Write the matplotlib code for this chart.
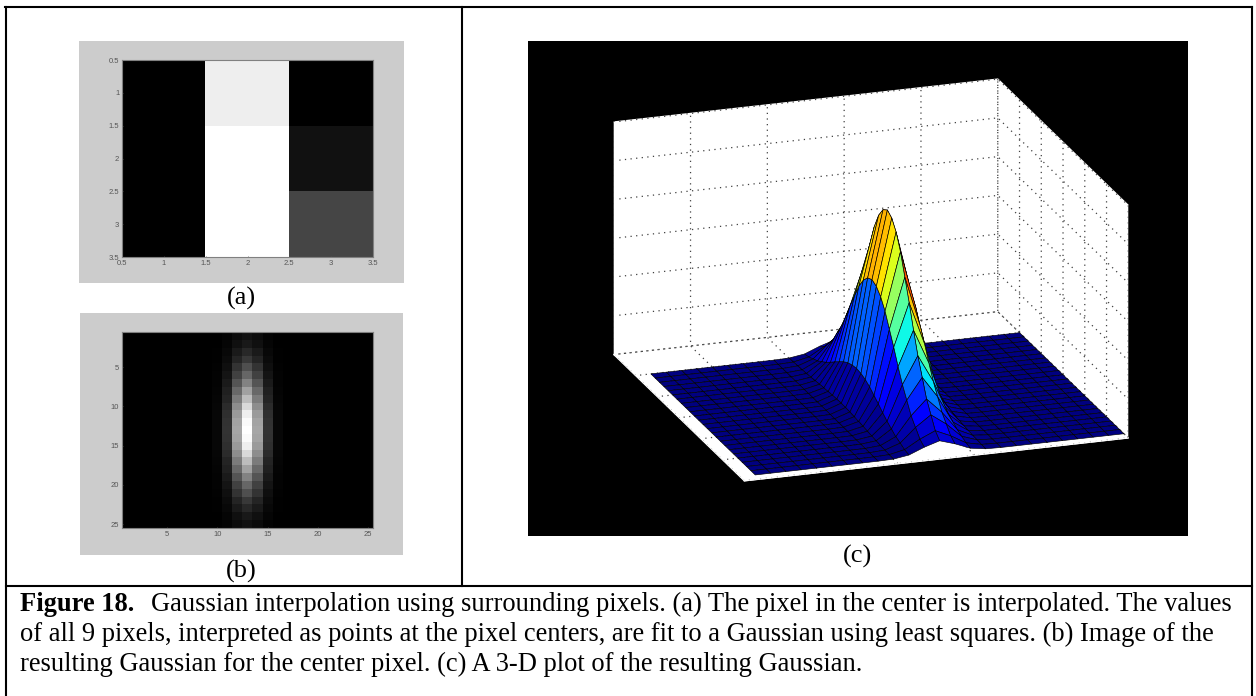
import numpy as np
import matplotlib
matplotlib.use("Agg")
import matplotlib.pyplot as plt
from matplotlib.patches import Rectangle

W, H = 1256, 696

# pixel values of the 3x3 patch (a)
patch_values = [[0.00, 0.93, 0.00],
                [0.00, 1.00, 0.07],
                [0.00, 1.00, 0.27]]
patch_ticks = [0.5, 1, 1.5, 2, 2.5, 3, 3.5]
patch_labels = ["0.5", "1", "1.5", "2", "2.5", "3", "3.5"]

# gaussian profiles (b) and (c), 25 samples each
profile_x = [0, 0, 0, 0, 0, 0, 0, 0, 0.002, 0.03, 0.20, 0.65, 1.0,
             0.65, 0.20, 0.03, 0.002, 0, 0, 0, 0, 0, 0, 0, 0]
profile_y = [0.07, 0.10, 0.16, 0.22, 0.31, 0.40, 0.51, 0.63, 0.74, 0.85, 0.93, 0.98, 1.0,
             0.98, 0.93, 0.85, 0.74, 0.63, 0.51, 0.40, 0.31, 0.22, 0.16, 0.10, 0.07]
image_ticks = [5, 10, 15, 20, 25]

caption_bold = "Figure 18."
caption_lines = ["Gaussian interpolation using surrounding pixels. (a) The pixel in the center is interpolated. The values",
                 "of all 9 pixels, interpreted as points at the pixel centers, are fit to a Gaussian using least squares. (b) Image of the",
                 "resulting Gaussian for the center pixel. (c) A 3-D plot of the resulting Gaussian."]

plt.rcParams["font.family"] = ["Liberation Serif", "DejaVu Serif"]
plt.rcParams["grid.linestyle"] = (0, (1, 3.5))
plt.rcParams["grid.color"] = "#404040"
plt.rcParams["grid.linewidth"] = 0.9


def px_axes(x0, y0, x1, y1, **kw):
    # axes from pixel box, y counted from the top
    return fig.add_axes([x0 / W, 1 - y1 / H, (x1 - x0) / W, (y1 - y0) / H], **kw)


def px_rect(x0, y0, x1, y1, color):
    fig.add_artist(Rectangle((x0 / W, 1 - y1 / H), (x1 - x0) / W, (y1 - y0) / H,
                             transform=fig.transFigure, facecolor=color, edgecolor="none", zorder=-1))


def px_line(x0, y0, x1, y1):
    fig.add_artist(plt.Line2D([x0 / W, x1 / W], [1 - y0 / H, 1 - y1 / H],
                              transform=fig.transFigure, color="black", lw=1.5))


def px_text(x, y, s, **kw):
    fig.text(x / W, 1 - y / H, s, va="baseline", color="black", **kw)


def style_image_axes(ax):
    ax.tick_params(labelsize=5.5, colors="#555555", length=1, width=0.5, direction="in", pad=2)
    for label in ax.get_xticklabels() + ax.get_yticklabels():
        label.set_family("Liberation Sans")
    for spine in ax.spines.values():
        spine.set_color("#808080")
        spine.set_linewidth(0.8)


fig = plt.figure(figsize=(W / 100, H / 100), dpi=100, facecolor="white")

# table borders, the bottom edge is cut off by the page
px_line(5, 7, 1252, 7)
px_line(6, 7, 6, 696)
px_line(1252, 7, 1252, 696)
px_line(6, 586, 1252, 586)
px_line(462, 7, 462, 586)

# panel (a)
px_rect(79, 41, 404, 283, "#cccccc")
ax_a = px_axes(122, 60, 373, 257)
ax_a.imshow(patch_values, cmap="gray", vmin=0, vmax=1, aspect="auto",
            extent=[0.5, 3.5, 3.5, 0.5], interpolation="nearest")
ax_a.set_xticks(patch_ticks, patch_labels)
ax_a.set_yticks(patch_ticks, patch_labels)
style_image_axes(ax_a)
px_text(241, 305, "(a)", fontsize=19, ha="center")

# panel (b)
gaussian = np.outer(profile_y, profile_x)
px_rect(80, 313, 403, 555, "#cccccc")
ax_b = px_axes(122, 332, 373, 528)
ax_b.imshow(gaussian, cmap="gray", vmin=0, vmax=1, aspect="auto",
            extent=[0.5, 25.5, 25.5, 0.5], interpolation="nearest")
ax_b.set_xticks(image_ticks)
ax_b.set_yticks(image_ticks)
style_image_axes(ax_b)
px_text(241, 578, "(b)", fontsize=19, ha="center")

# panel (c)
px_rect(528, 41, 1188, 536, "black")
px_text(858, 563, "(c)", fontsize=19, ha="center")

side = 606
cx, cy = 871, 280
left = cx - 0.5135 * side
bottom = H - (cy + 0.5135 * side)
ax_c = fig.add_axes([left / W, bottom / H, side / W, side / H], projection="3d")
ax_c.patch.set_alpha(0)
ax_c.set_proj_type("ortho")
ax_c.view_init(elev=19.2, azim=-108.77)
ax_c.set_box_aspect((1, 1, 0.607))
ax_c.set_xlim(0, 25, view_margin=0)
ax_c.set_ylim(0, 30, view_margin=0)
ax_c.set_zlim(0, 1.2, view_margin=0)
ax_c.set_xticks(np.arange(0, 26, 5))
ax_c.set_yticks(np.arange(0, 31, 5))
ax_c.set_zticks(np.arange(0, 1.3, 0.2))
ax_c.set_xticklabels([])
ax_c.set_yticklabels([])
ax_c.set_zticklabels([])
ax_c.tick_params(color=(0, 0, 0, 0))
for axis in (ax_c.xaxis, ax_c.yaxis, ax_c.zaxis):
    axis.set_pane_color((1, 1, 1, 1))
    axis.pane.set_edgecolor("white")
    axis.line.set_color("white")

xx, yy = np.meshgrid(np.arange(1, 26), np.arange(1, 26))
colors = plt.cm.jet(gaussian / 0.9)
ax_c.plot_surface(xx, yy, gaussian, rstride=1, cstride=1, facecolors=colors,
                  shade=False, edgecolor="black", linewidth=0.45, antialiased=True)

# caption
px_text(20, 611, caption_bold, fontsize=19.1, fontweight="bold")
px_text(151, 611, caption_lines[0], fontsize=19.1)
px_text(20, 641, caption_lines[1], fontsize=19.1)
px_text(20, 671, caption_lines[2], fontsize=19.1)

fig.savefig("out.png", dpi=100)
